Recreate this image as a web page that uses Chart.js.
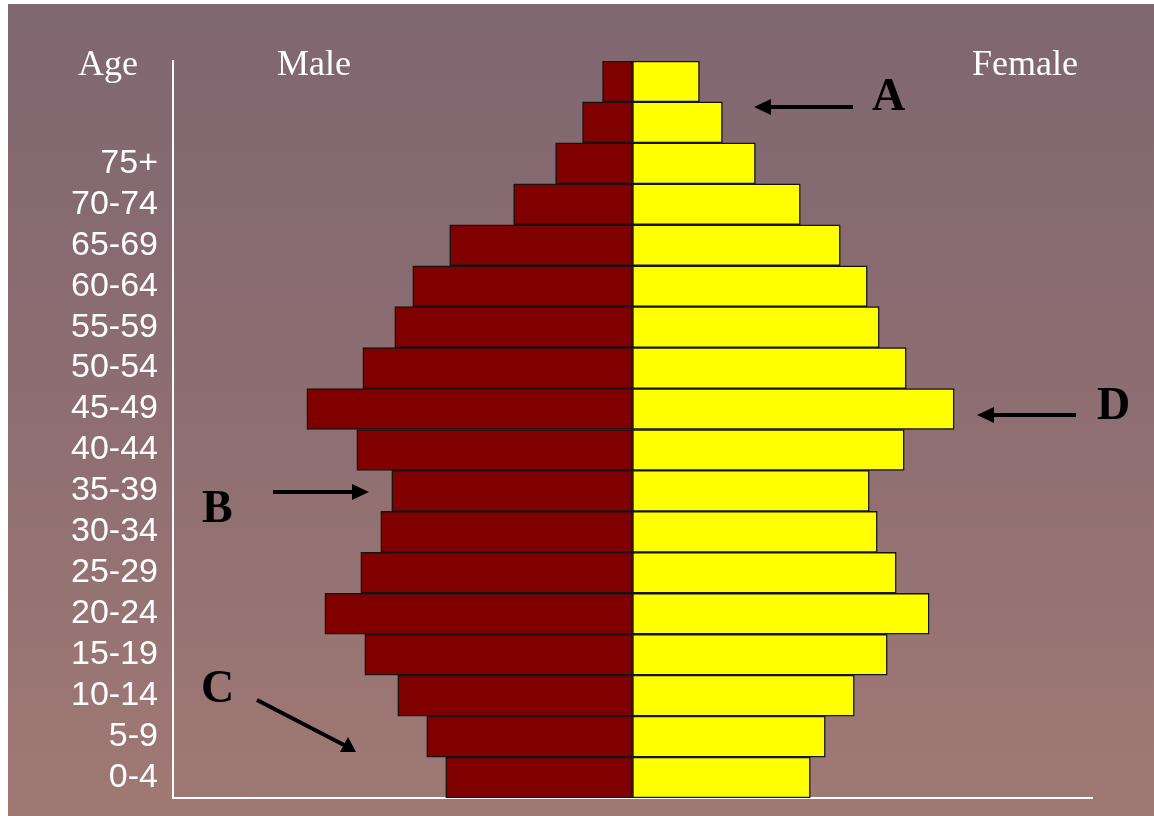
<!DOCTYPE html>
<html>
<head>
<meta charset="utf-8">
<title>Population pyramid</title>
<script src="https://cdn.jsdelivr.net/npm/chart.js@4/dist/chart.umd.min.js"></script>
<style>
  html, body { margin: 0; padding: 0; background: #fff; }
  #frame {
    position: absolute; left: 8px; top: 4px; width: 1146px; height: 812px;
    background: linear-gradient(to bottom, #7f6770 0%, #8c6d72 45%, #a07974 100%);
    overflow: hidden;
  }
  #frame canvas { position: absolute; left: 0; top: 0; }
  .lbl { position: absolute; color: #fff; font-family: "Liberation Serif", "Times New Roman", serif;
         font-size: 36px; line-height: 36px; white-space: nowrap; }
  .mark { position: absolute; color: #000; font-family: "Liberation Serif", "Times New Roman", serif;
          font-weight: bold; font-size: 46px; line-height: 46px; }
  svg { position: absolute; left: 0; top: 0; }
</style>
</head>
<body>
<div id="frame">
  <canvas id="pyramid"></canvas>
</div>
<div class="lbl" style="left:78px; top:45px;">Age</div>
<div class="lbl" style="left:277px; top:45px;">Male</div>
<div class="lbl" style="left:972px; top:45px;">Female</div>
<div class="mark" style="left:872px; top:72px;">A</div>
<div class="mark" style="left:202px; top:484px;">B</div>
<div class="mark" style="left:201px; top:664px;">C</div>
<div class="mark" style="left:1097px; top:381px;">D</div>
<svg width="1154" height="816">
  <g stroke="#000" stroke-width="4">
    <line x1="853" y1="107" x2="768" y2="107"/>
    <line x1="1076" y1="415" x2="991" y2="415"/>
    <line x1="273" y1="492" x2="355" y2="492"/>
    <line x1="257" y1="700" x2="344" y2="745"/>
  </g>
  <g fill="#000">
    <polygon points="754,107 771,99 771,115"/>
    <polygon points="977,415 994,407 994,423"/>
    <polygon points="369,492 352,484 352,500"/>
    <polygon points="356,752 348,737 340,752"/>
  </g>
</svg>
<script>
// age groups, top to bottom (the two oldest groups have no label)
let ageLabels = ['', '', '75+', '70-74', '65-69', '60-64', '55-59', '50-54', '45-49',
  '40-44', '35-39', '30-34', '25-29', '20-24', '15-19', '10-14', '5-9', '0-4'];

// share of population, same order as ageLabels
let maleValues = [0.30, 0.50, 0.77, 1.19, 1.83, 2.20, 2.38, 2.70, 3.26,
  2.76, 2.41, 2.52, 2.72, 3.08, 2.68, 2.35, 2.06, 1.87];
let femaleValues = [0.67, 0.90, 1.23, 1.68, 2.08, 2.35, 2.47, 2.74, 3.22,
  2.72, 2.37, 2.45, 2.64, 2.97, 2.55, 2.22, 1.93, 1.78];

let ctx = document.getElementById("pyramid");
let chart = new Chart(ctx, {
  type: 'bar',
  data: {
    labels: ageLabels,
    datasets: [{
      label: 'Male',
      data: maleValues.map(v => -v),
      backgroundColor: '#800000',
      borderColor: '#141414',
      borderWidth: 1.5,
      borderSkipped: false,
      barPercentage: 1,
      categoryPercentage: 1
    }, {
      label: 'Female',
      data: femaleValues,
      backgroundColor: '#ffff00',
      borderColor: '#141414',
      borderWidth: 1.5,
      borderSkipped: false,
      barPercentage: 1,
      categoryPercentage: 1
    }]
  },
  options: {
    indexAxis: 'y',
    responsive: true,
    maintainAspectRatio: false,
    animation: false,
    layout: { padding: { left: 0, top: 57, right: 62, bottom: 18 } },
    plugins: {
      legend: { display: false },
      tooltip: { enabled: false }
    },
    scales: {
      x: {
        stacked: true,
        min: -4.6,
        max: 4.6,
        ticks: { display: false },
        grid: { display: false, drawTicks: false },
        border: { display: true, color: '#ffffff', width: 2 }
      },
      y: {
        stacked: true,
        afterFit: scale => {
          scale.width = 165;
          scale.paddingTop = 0;
          scale.paddingBottom = 0;
        },
        ticks: {
          color: '#ffffff',
          autoSkip: false,
          padding: 15,
          font: { family: "'Liberation Sans', Arial, sans-serif", size: 34 }
        },
        grid: { display: false, drawTicks: false },
        border: { display: true, color: '#ffffff', width: 2 }
      }
    }
  }
});
</script>
</body>
</html>
